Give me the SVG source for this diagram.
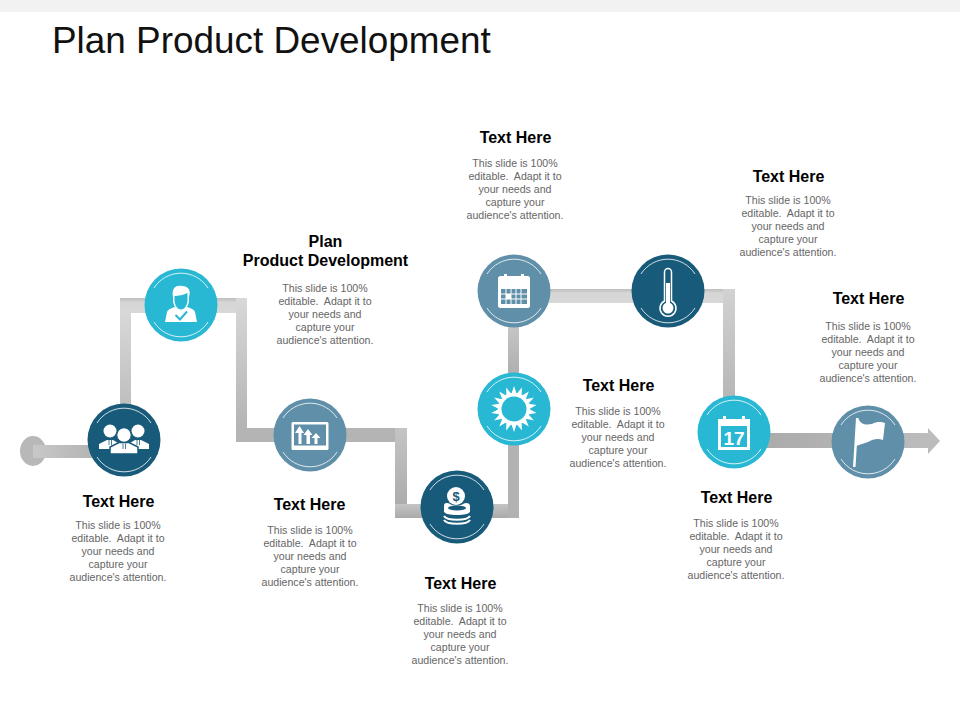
<svg xmlns="http://www.w3.org/2000/svg" xmlns:xlink="http://www.w3.org/1999/xlink" width="960" height="720" viewBox="0 0 960 720">
<style>
text{font-family:"Liberation Sans",Arial,sans-serif;text-anchor:middle;white-space:pre}
.t{font-size:36.9px;fill:#111;text-anchor:start}
.h{font-size:16px;font-weight:bold;fill:#000}
.b{font-size:10.6px;fill:#666}
.d{fill:#175a7a}.c{fill:#29b8d4}.s{fill:#5f8fa9}
.w{fill:#fff}
.r{fill:none;stroke:#fff;stroke-width:1;opacity:.8}
.dl{stroke:#175a7a}.cl{stroke:#29b8d4}.sl{stroke:#5f8fa9}
</style>
<defs>
<filter id="blur" x="-10%" y="-10%" width="120%" height="120%"><feGaussianBlur stdDeviation="0.7"/></filter>
<linearGradient id="v1" x1="0" y1="0" x2="0" y2="1"><stop offset="0" stop-color="#dcdcdc"/><stop offset="1" stop-color="#b4b4b4"/></linearGradient>
<linearGradient id="v2" x1="0" y1="0" x2="0" y2="1"><stop offset="0" stop-color="#d8d8d8"/><stop offset="1" stop-color="#b0b0b0"/></linearGradient>
<linearGradient id="v3" x1="0" y1="0" x2="0" y2="1"><stop offset="0" stop-color="#c4c4c4"/><stop offset="1" stop-color="#a8a8a8"/></linearGradient>
<linearGradient id="v4" x1="0" y1="0" x2="0" y2="1"><stop offset="0" stop-color="#d2d2d2"/><stop offset="1" stop-color="#acacac"/></linearGradient>
<linearGradient id="hb" x1="0" y1="0" x2="0" y2="1"><stop offset="0" stop-color="#bdbdbd"/><stop offset=".3" stop-color="#d6d6d6"/><stop offset="1" stop-color="#d8d8d8"/></linearGradient>
<linearGradient id="hc" x1="0" y1="0" x2="0" y2="1"><stop offset="0" stop-color="#c4c4c4"/><stop offset="1" stop-color="#aaa"/></linearGradient>
<linearGradient id="ha" x1="0" y1="0" x2="1" y2="0"><stop offset="0" stop-color="#c8c8c8"/><stop offset="1" stop-color="#a8a8a8"/></linearGradient>
<linearGradient id="hz" x1="0" y1="0" x2="1" y2="0"><stop offset="0" stop-color="#a8a8a8"/><stop offset="1" stop-color="#bcbcbc"/></linearGradient>
<path id="ring" class="r" d="M-27,-17A32,32 0 0 1 27,-17M27,17A32,32 0 0 1 -27,17"/>
<polygon id="spike" class="w" points="-3,-14 0,-23 3,-14"/>
</defs>

<rect x="0" y="0" width="960" height="12" fill="#f2f2f2"/>
<text class="t" x="52" y="53">Plan Product Development</text>

<g id="connectors" filter="url(#blur)">
<ellipse cx="33" cy="451" rx="13" ry="15" fill="#b8b8b8"/>
<rect x="33" y="445" width="95" height="13" fill="url(#ha)"/>
<rect x="120" y="298" width="11" height="145" fill="url(#v1)"/>
<rect x="120" y="298" width="127" height="15" fill="url(#hb)"/>
<rect x="236" y="298" width="11" height="144" fill="url(#v2)"/>
<rect x="236" y="428" width="171" height="14" fill="#b4b4b4"/>
<rect x="395" y="428" width="12" height="90" fill="url(#v3)"/>
<rect x="395" y="504" width="124" height="14" fill="url(#hc)"/>
<rect x="508" y="290" width="11" height="228" fill="#b2b2b2"/>
<rect x="508" y="300" width="11" height="80" fill="url(#v4)"/>
<rect x="514" y="289" width="221" height="14" fill="url(#hb)"/>
<rect x="723" y="289" width="12" height="150" fill="url(#v4)"/>
<rect x="734" y="433" width="195" height="15" fill="url(#hz)"/>
<polygon points="928,428 940,441 928,454" fill="#bcbcbc"/>
</g>

<g id="node1" transform="translate(124,440)">
<circle r="36.500" class="d"/><use href="#ring" xlink:href="#ring"/>
<circle cx="-14" cy="-9" r="6.500" class="w"/><circle cx="14" cy="-9" r="6.500" class="w"/>
<path class="w" d="M-25,9V4L-17,0H-11L-6,3 6,3 11,0H17L25,4V9Z"/>
<path class="w dl" stroke-width="1.500" d="M-14,14V7L-5,2.500H5L14,7V14Z"/>
<circle cy="-5" r="7.300" class="w dl" stroke-width="1.200"/>
<path d="M-1,3.500V9M1.500,3.500V9M-15,0V5M-12.500,0V5M13,0V5M15.500,0V5" stroke="#175a7a" stroke-width=".8" fill="none"/>
</g>

<g id="node2" transform="translate(181,305)">
<circle r="36.500" class="c"/><use href="#ring" xlink:href="#ring"/>
<path class="w" d="M-16,17L-14,7Q-13,4 -6,2L0,6 6,2Q13,4 14,7L16,17Z"/>
<path class="w" d="M-8,-8C-10,-18 -4,-20 1,-19C8,-19 10,-14 8,-8V-4C7,3 3,6 0,6C-3,6 -7,3 -8,-4Z"/>
<path class="c" d="M-6.500,-9C-3,-9 3,-10 6.500,-12V-4C6,1 3,4.500 0,4.500C-3,4.500 -6,1 -6.500,-4Z"/>
<path d="M-5.500,10L-1,14.500 6,6.500" fill="none" stroke="#29b8d4" stroke-width="2"/>
</g>

<g id="node3" transform="translate(310,435)">
<circle r="36.500" class="s"/><use href="#ring" xlink:href="#ring"/>
<rect x="-18.500" y="-13" width="37" height="28" rx="1.500" class="w"/>
<rect x="-16" y="-10.500" width="32" height="21" class="s"/>
<path class="w" d="M-11.500,9V-2H-15L-10.500,-9 -6,-2H-8.500V9ZM-3.500,9V0H-6.500L-2,-6 2.500,0H0V9ZM4.500,9V3H1.500L6,-2 10.500,3H7.500V9Z"/>
</g>

<g id="node4" transform="translate(457,507)">
<circle r="36.500" class="d"/><use href="#ring" xlink:href="#ring"/>
<circle cx="-1" cy="-11" r="9" class="w"/>
<text x="-1" y="-6.500" font-size="13" font-weight="bold" fill="#175a7a">$</text>
<path class="w" d="M-13,-1C-13,-5 -9,-4 -7,-3C-4,-1 3,-1 6,-3C9,-5 13,-4 13,-1V5C13,9 -13,9 -13,5Z"/>
<ellipse cy="1" rx="9" ry="2.500" class="d"/>
<path d="M-13,9C-10,14 10,14 13,9M-13,13C-10,18 10,18 13,13" fill="none" stroke="#fff" stroke-width="2.200"/>
<path d="M-13,5.500C-10,10.500 10,10.500 13,5.500" fill="none" stroke="#175a7a" stroke-width="1"/>
</g>

<g id="node5" transform="translate(514,409)">
<circle r="36.500" class="c"/><use href="#ring" xlink:href="#ring"/>
<circle r="16" class="w"/>
<use href="#spike" xlink:href="#spike" transform="rotate(0)"/><use href="#spike" xlink:href="#spike" transform="rotate(20)"/><use href="#spike" xlink:href="#spike" transform="rotate(40)"/><use href="#spike" xlink:href="#spike" transform="rotate(60)"/><use href="#spike" xlink:href="#spike" transform="rotate(80)"/><use href="#spike" xlink:href="#spike" transform="rotate(100)"/><use href="#spike" xlink:href="#spike" transform="rotate(120)"/><use href="#spike" xlink:href="#spike" transform="rotate(140)"/><use href="#spike" xlink:href="#spike" transform="rotate(160)"/><use href="#spike" xlink:href="#spike" transform="rotate(180)"/><use href="#spike" xlink:href="#spike" transform="rotate(200)"/><use href="#spike" xlink:href="#spike" transform="rotate(220)"/><use href="#spike" xlink:href="#spike" transform="rotate(240)"/><use href="#spike" xlink:href="#spike" transform="rotate(260)"/><use href="#spike" xlink:href="#spike" transform="rotate(280)"/><use href="#spike" xlink:href="#spike" transform="rotate(300)"/><use href="#spike" xlink:href="#spike" transform="rotate(320)"/><use href="#spike" xlink:href="#spike" transform="rotate(340)"/>
<circle r="12.500" class="c"/>
</g>

<g id="node6" transform="translate(514,291)">
<circle r="36.500" class="s"/><use href="#ring" xlink:href="#ring"/>
<rect x="-16" y="-15" width="32" height="32" rx="2.500" class="w"/>
<rect x="-10" y="-17" width="3" height="4" class="w"/><rect x="7" y="-17" width="3" height="4" class="w"/>
<rect x="-13" y="-2" width="26" height="15" class="s"/>
<path d="M-13,3H13M-13,8H13M-8,-2V13M-3,-2V13M2,-2V13M7,-2V13" stroke="#fff" stroke-width="1" fill="none"/>
<rect x="-8" y="3" width="5" height="5" class="w"/>
</g>

<g id="node7" transform="translate(668,291)">
<circle r="36.500" class="d"/><use href="#ring" xlink:href="#ring"/>
<path d="M-3.500,10V-19A3.500,3.500 0 0 1 3.500,-19V10A8,8 0 1 1 -3.500,10Z" fill="#175a7a" stroke="#fff" stroke-width="1.500"/>
<rect x="-2" y="-8" width="4" height="22" class="w"/>
<circle cy="17" r="5.500" class="w"/>
</g>

<g id="node8" transform="translate(734,432)">
<circle r="36.500" class="c"/><use href="#ring" xlink:href="#ring"/>
<rect x="-16" y="-13" width="32" height="31" class="w"/>
<rect x="-11" y="-16" width="3" height="6" class="w"/><rect x="8" y="-16" width="3" height="6" class="w"/>
<rect x="-13" y="-6" width="26" height="21" class="c"/>
<text x="0" y="12.500" font-size="19" font-weight="bold" fill="#fff">17</text>
</g>

<g id="node9" transform="translate(868,442)">
<circle r="36.500" class="s"/><use href="#ring" xlink:href="#ring"/>
<path class="w" d="M-12,-24L-9.500,-24 -12.500,25 -15,25Z"/>
<path class="w" d="M-10,-24C-7,-17 -2,-17 4,-18C9,-21 14,-20 17,-19L15,-2C10,-4 5,-3 0,0C-4,1 -8,3 -12,4Z"/>
</g>

<g id="label1"><text class="h" x="118.500" y="507">Text Here</text><text class="b" x="118" y="529">This slide is 100%</text><text class="b" x="118" y="542">editable.  Adapt it to</text><text class="b" x="118" y="555">your needs and</text><text class="b" x="118" y="568">capture your</text><text class="b" x="118" y="581">audience's attention.</text></g>
<g id="label2"><text class="h" x="325.500" y="247">Plan</text><text class="h" x="325.500" y="266">Product Development</text><text class="b" x="325" y="292">This slide is 100%</text><text class="b" x="325" y="305">editable.  Adapt it to</text><text class="b" x="325" y="318">your needs and</text><text class="b" x="325" y="331">capture your</text><text class="b" x="325" y="344">audience's attention.</text></g>
<g id="label3"><text class="h" x="309.500" y="510">Text Here</text><text class="b" x="310" y="534">This slide is 100%</text><text class="b" x="310" y="547">editable.  Adapt it to</text><text class="b" x="310" y="560">your needs and</text><text class="b" x="310" y="573">capture your</text><text class="b" x="310" y="586">audience's attention.</text></g>
<g id="label4"><text class="h" x="460.500" y="589">Text Here</text><text class="b" x="460" y="612">This slide is 100%</text><text class="b" x="460" y="625">editable.  Adapt it to</text><text class="b" x="460" y="638">your needs and</text><text class="b" x="460" y="651">capture your</text><text class="b" x="460" y="664">audience's attention.</text></g>
<g id="label5"><text class="h" x="618.500" y="391">Text Here</text><text class="b" x="618" y="415">This slide is 100%</text><text class="b" x="618" y="428">editable.  Adapt it to</text><text class="b" x="618" y="441">your needs and</text><text class="b" x="618" y="454">capture your</text><text class="b" x="618" y="467">audience's attention.</text></g>
<g id="label6"><text class="h" x="515.500" y="143">Text Here</text><text class="b" x="515" y="167">This slide is 100%</text><text class="b" x="515" y="180">editable.  Adapt it to</text><text class="b" x="515" y="193">your needs and</text><text class="b" x="515" y="206">capture your</text><text class="b" x="515" y="219">audience's attention.</text></g>
<g id="label7"><text class="h" x="788.500" y="182">Text Here</text><text class="b" x="788" y="204">This slide is 100%</text><text class="b" x="788" y="217">editable.  Adapt it to</text><text class="b" x="788" y="230">your needs and</text><text class="b" x="788" y="243">capture your</text><text class="b" x="788" y="256">audience's attention.</text></g>
<g id="label8"><text class="h" x="736.500" y="503">Text Here</text><text class="b" x="736" y="527">This slide is 100%</text><text class="b" x="736" y="540">editable.  Adapt it to</text><text class="b" x="736" y="553">your needs and</text><text class="b" x="736" y="566">capture your</text><text class="b" x="736" y="579">audience's attention.</text></g>
<g id="label9"><text class="h" x="868.500" y="304">Text Here</text><text class="b" x="868" y="330">This slide is 100%</text><text class="b" x="868" y="343">editable.  Adapt it to</text><text class="b" x="868" y="356">your needs and</text><text class="b" x="868" y="369">capture your</text><text class="b" x="868" y="382">audience's attention.</text></g>
</svg>
